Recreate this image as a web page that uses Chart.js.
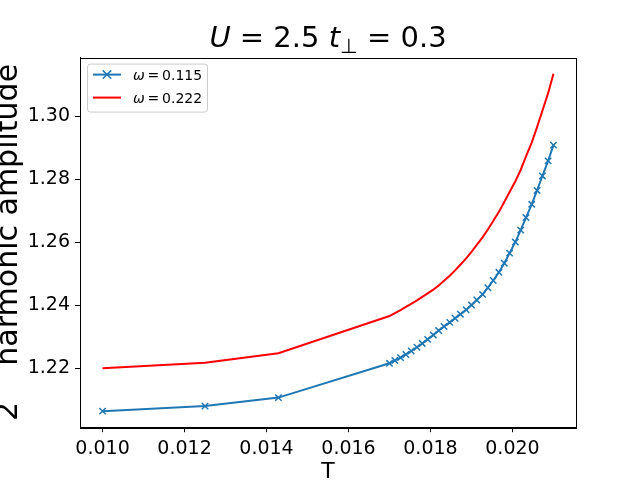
<!DOCTYPE html>
<html>
<head>
<meta charset="utf-8">
<script src="https://cdn.jsdelivr.net/npm/chart.js@4"></script>
<style>
  html, body { margin: 0; padding: 0; background: #fff; }
  #wrap { width: 640px; height: 480px; }
</style>
</head>
<body>
<div id="wrap"><canvas id="c" width="640" height="480"></canvas></div>
<script>
// datos
const temps = [0.010, 0.0125, 0.01429,
  0.01700, 0.01713, 0.01727, 0.01740, 0.01753, 0.01767, 0.01780, 0.01793, 0.01807, 0.01820,
  0.01833, 0.01847, 0.01860, 0.01873, 0.01887, 0.01900, 0.01913, 0.01927, 0.01940, 0.01953,
  0.01967, 0.01980, 0.01993, 0.02007, 0.02020, 0.02033, 0.02047, 0.02060, 0.02073, 0.02087, 0.02100];

const amp115 = [1.2063, 1.2079, 1.2106,
  1.2215, 1.2224, 1.2233, 1.2243, 1.2254, 1.2266, 1.2278, 1.2291, 1.2305, 1.2319,
  1.2332, 1.2345, 1.2358, 1.2371, 1.2385, 1.2400, 1.2416, 1.2434, 1.2455, 1.2478,
  1.2504, 1.2533, 1.2565, 1.2600, 1.2638, 1.2678, 1.2720, 1.2764, 1.2810, 1.2858, 1.2908];

const amp222 = [1.2199, 1.2217, 1.2247,
  1.2365, 1.2374, 1.2384, 1.2394, 1.2404, 1.2415, 1.2426, 1.2437, 1.2449, 1.2462,
  1.2477, 1.2493, 1.2510, 1.2528, 1.2548, 1.2569, 1.2591, 1.2615, 1.2640, 1.2667,
  1.2696, 1.2727, 1.2759, 1.2793, 1.2829, 1.2872, 1.2916, 1.2965, 1.3017, 1.3073, 1.3135];

const xTicks = [0.010, 0.012, 0.014, 0.016, 0.018, 0.020];
const yTicks = [1.22, 1.24, 1.26, 1.28, 1.30];
const legendLabels = ['0.115', '0.222'];

const BLUE = '#1f77b4';
const RED = '#ff0000';
const FONT = '"DejaVu Sans", sans-serif';

const toPoints = (xs, ys) => xs.map((x, i) => ({ x: x, y: ys[i] }));

// dibuja trozos de texto (normal / cursiva / subindice / superindice)
function drawPieces(ctx, pieces, size, align) {
    let total = 0;
    const widths = pieces.map(p => {
        const s = p.sub || p.sup ? size * 0.7 : size;
        ctx.font = (p.it ? 'oblique ' : '') + s + 'px ' + FONT;
        const w = ctx.measureText(p.t).width;
        total += w;
        return w;
    });
    let x = align === 'center' ? -total / 2 : 0;
    pieces.forEach((p, i) => {
        const s = p.sub || p.sup ? size * 0.7 : size;
        ctx.font = (p.it ? 'oblique ' : '') + s + 'px ' + FONT;
        let dy = 0;
        if (p.sub) dy = size * 0.22;
        if (p.sup) dy = -size * 0.6;
        ctx.fillText(p.t, x, dy);
        x += widths[i];
    });
}

const decor = {
    id: 'decor',
    afterDraw(chart) {
        const ctx = chart.ctx;
        const a = chart.chartArea;
        ctx.save();
        ctx.fillStyle = '#000';
        ctx.textBaseline = 'alphabetic';
        ctx.textAlign = 'left';

        // marco
        ctx.strokeStyle = '#000';
        ctx.lineWidth = 1;
        ctx.strokeRect(Math.round(a.left) + 0.5, Math.round(a.top) + 0.5,
            Math.round(a.right - a.left), Math.round(a.bottom - a.top));

        // titulo
        ctx.save();
        ctx.translate((a.left + a.right) / 2, 47);
        drawPieces(ctx, [
            { t: 'U', it: true }, { t: ' = 2.5 ' }, { t: 't', it: true },
            { t: '⊥', sub: true }, { t: ' = 0.3' }
        ], 29, 'center');
        ctx.restore();

        // etiqueta x
        ctx.save();
        ctx.translate((a.left + a.right) / 2, 478);
        drawPieces(ctx, [{ t: 'T' }], 22, 'center');
        ctx.restore();

        // etiqueta y
        ctx.save();
        ctx.translate(17, (a.top + a.bottom) / 2);
        ctx.rotate(-Math.PI / 2);
        drawPieces(ctx, [{ t: '2' }, { t: 'nd', sup: true, it: true }, { t: ' harmonic amplitude' }], 30, 'center');
        ctx.restore();

        // leyenda
        const lx = a.left + 7, ly = a.top + 6, lw = 120, lh = 48;
        ctx.beginPath();
        ctx.roundRect(lx + 0.5, ly + 0.5, lw, lh, 3);
        ctx.fillStyle = 'rgba(255,255,255,0.8)';
        ctx.fill();
        ctx.strokeStyle = '#cccccc';
        ctx.stroke();
        const colors = [BLUE, RED];
        legendLabels.forEach((lab, i) => {
            const y = ly + 11 + i * 23;
            ctx.strokeStyle = colors[i];
            ctx.lineWidth = 2;
            ctx.beginPath();
            ctx.moveTo(lx + 6, y);
            ctx.lineTo(lx + 34, y);
            ctx.stroke();
            if (i === 0) {
                const cx = lx + 20, r = 4.2;
                ctx.lineWidth = 1.5;
                ctx.beginPath();
                ctx.moveTo(cx - r, y - r); ctx.lineTo(cx + r, y + r);
                ctx.moveTo(cx - r, y + r); ctx.lineTo(cx + r, y - r);
                ctx.stroke();
            }
            ctx.fillStyle = '#000';
            ctx.save();
            ctx.translate(lx + 46, y + 5);
            drawPieces(ctx, [{ t: 'ω', it: true }, { t: '\u2009=\u2009' + lab }], 14, 'left');
            ctx.restore();
        });
        ctx.restore();
    }
};

const ctx = document.getElementById('c').getContext('2d');
const chart = new Chart(ctx, {
    type: 'scatter',
    data: {
        datasets: [
            {
                label: 'ω = 0.115', data: toPoints(temps, amp115),
                showLine: true, borderColor: BLUE, backgroundColor: BLUE, borderWidth: 2,
                pointStyle: 'crossRot', pointRadius: 4.5, pointBorderWidth: 1.5,
                pointBorderColor: BLUE, pointHoverRadius: 4.5, order: 2
            },
            {
                label: 'ω = 0.222', data: toPoints(temps, amp222),
                showLine: true, borderColor: RED, backgroundColor: RED, borderWidth: 2,
                pointRadius: 0, pointHoverRadius: 0, order: 1
            }
        ]
    },
    options: {
        responsive: false, animation: false, devicePixelRatio: 1,
        layout: { padding: { left: 0, right: 64, top: 57.6, bottom: 0 } },
        plugins: { legend: { display: false }, title: { display: false }, tooltip: { enabled: false } },
        scales: {
            x: {
                type: 'linear', min: 0.00945, max: 0.02155,
                afterFit: s => { s.height = 52.8; },
                afterBuildTicks: s => { s.ticks = xTicks.map(v => ({ value: v })); },
                grid: { drawOnChartArea: false, drawTicks: true, tickLength: 5, tickColor: '#000', tickWidth: 1 },
                border: { display: true, color: '#000', width: 1 },
                ticks: { color: '#000', padding: 5, maxRotation: 0, autoSkip: false,
                    font: { family: FONT, size: 19 }, callback: v => v.toFixed(3) }
            },
            y: {
                type: 'linear', min: 1.2012, max: 1.3186,
                afterFit: s => { s.width = 80; },
                afterBuildTicks: s => { s.ticks = yTicks.map(v => ({ value: v })); },
                grid: { drawOnChartArea: false, drawTicks: true, tickLength: 5, tickColor: '#000', tickWidth: 1 },
                border: { display: true, color: '#000', width: 1 },
                ticks: { color: '#000', padding: 5, autoSkip: false,
                    font: { family: FONT, size: 19 }, callback: v => v.toFixed(2) }
            }
        }
    },
    plugins: [decor]
});
</script>
</body>
</html>
